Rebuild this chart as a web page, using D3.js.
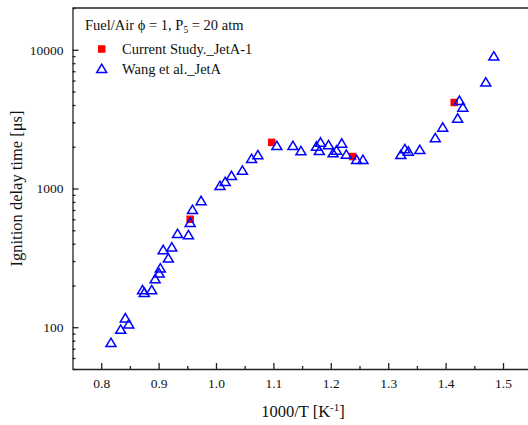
<!DOCTYPE html>
<html>
<head>
<meta charset="utf-8">
<script src="https://cdn.jsdelivr.net/npm/d3@7"></script>
<style>
  body { margin: 0; background: #fff; }
  text { font-family: "Liberation Serif", "Times New Roman", serif; fill: #111; }
</style>
</head>
<body>
<div id="chart"></div>
<script>
// ignition delay data
const studyX = [0.955, 1.097, 1.238, 1.415];
const studyY = [600, 2150, 1700, 4170];

const wangX = [0.817, 0.834, 0.842, 0.848, 0.872, 0.875, 0.888, 0.894, 0.901, 0.903,
    0.917, 0.908, 0.923, 0.933, 0.952, 0.955, 0.959, 0.974, 1.007, 1.016,
    1.027, 1.046, 1.062, 1.073, 1.106, 1.134, 1.148, 1.175, 1.180, 1.182,
    1.196, 1.204, 1.210, 1.219, 1.227, 1.245, 1.256, 1.322, 1.329, 1.335,
    1.355, 1.382, 1.395, 1.421, 1.424, 1.430, 1.470, 1.484];
const wangY = [77, 96, 116, 105, 185, 177, 185, 222, 244, 265,
    313, 360, 376, 470, 461, 566, 700, 812, 1042, 1114,
    1231, 1344, 1633, 1737, 2027, 2027, 1856, 2004, 1865, 2141,
    2051, 1796, 1875, 2106, 1754, 1606, 1606, 1746, 1919, 1844,
    1897, 2304, 2748, 3191, 4283, 3832, 5806, 8946];

const xTicks = [0.8, 0.9, 1.0, 1.1, 1.2, 1.3, 1.4, 1.5];
const xMinor = [0.85, 0.95, 1.05, 1.15, 1.25, 1.35, 1.45];
const yTicks = [100, 1000, 10000];

function renderChart() {
    const width = 528;
    const height = 425;
    const margin = { top: 8, left: 72.5, bottom: 56 };

    const svg = d3.select("#chart").append("svg")
        .attr("width", width)
        .attr("height", height);

    const x = d3.scaleLinear()
        .domain([0.75, 1.55])
        .range([margin.left, margin.left + 0.8 * 574]);

    const y = d3.scaleLog()
        .domain([50, 20000])
        .range([height - margin.bottom, margin.top]);

    // minor log ticks
    const yMinor = [];
    [10, 100, 1000, 10000].forEach(d => {
        for (let k = 2; k <= 9; k++) {
            const v = d * k;
            if (v >= 50 && v <= 20000) yMinor.push(v);
        }
    });

    const x0 = x.range()[0], x1 = x.range()[1];
    const y0 = y.range()[0], y1 = y.range()[1];

    // x axis
    svg.append("g")
        .attr("transform", `translate(0,${y0})`)
        .call(d3.axisBottom(x).tickValues(xTicks).tickFormat(d3.format(".1f"))
            .tickSizeInner(-6).tickSizeOuter(0).tickPadding(9));
    svg.append("g")
        .attr("transform", `translate(0,${y0})`)
        .call(d3.axisBottom(x).tickValues(xMinor).tickFormat("")
            .tickSizeInner(-3).tickSizeOuter(0))
        .select(".domain").remove();

    // y axis
    svg.append("g")
        .attr("transform", `translate(${x0},0)`)
        .call(d3.axisLeft(y).tickValues(yTicks).tickFormat(d3.format("d"))
            .tickSizeInner(-6).tickSizeOuter(0).tickPadding(9));
    svg.append("g")
        .attr("transform", `translate(${x0},0)`)
        .call(d3.axisLeft(y).tickValues(yMinor).tickFormat("")
            .tickSizeInner(-3).tickSizeOuter(0))
        .select(".domain").remove();

    svg.selectAll("g").attr("font-family", null);
    svg.selectAll(".tick text").attr("font-size", 13.5);
    svg.selectAll(".domain, .tick line").attr("stroke", "#222").attr("stroke-width", 1.3);

    // frame top / right
    svg.append("path")
        .attr("d", `M${x0},${y1}H${x1}V${y0}`)
        .attr("fill", "none")
        .attr("stroke", "#222")
        .attr("stroke-width", 1.3);

    // axis titles
    const xt = svg.append("text")
        .attr("x", 303)
        .attr("y", 417)
        .attr("text-anchor", "middle")
        .attr("font-size", 16.5);
    xt.append("tspan").text("1000/T [K");
    xt.append("tspan").attr("dy", -6).attr("font-size", 11).text("-1");
    xt.append("tspan").attr("dy", 6).text("]");

    svg.append("text")
        .attr("transform", `translate(22,${(y0 + y1) / 2}) rotate(-90)`)
        .attr("text-anchor", "middle")
        .attr("font-size", 16.5)
        .text("Ignition delay time [μs]");

    // data: squares first, triangles on top
    const sq = 7.5;
    svg.append("g")
        .selectAll("rect")
        .data(studyX.map((d, i) => [d, studyY[i]]))
        .join("rect")
        .attr("x", d => x(d[0]) - sq / 2)
        .attr("y", d => y(d[1]) - sq / 2)
        .attr("width", sq)
        .attr("height", sq)
        .attr("fill", "#f00");

    const tri = "M-5,3.6L5,3.6L0,-4.8Z";
    svg.append("g")
        .selectAll("path")
        .data(wangX.map((d, i) => [d, wangY[i]]))
        .join("path")
        .attr("d", tri)
        .attr("transform", d => `translate(${x(d[0])},${y(d[1])})`)
        .attr("fill", "none")
        .attr("stroke", "#0000ff")
        .attr("stroke-width", 1.5);

    // legend
    const lg = svg.append("g");
    const t1 = lg.append("text").attr("x", 85).attr("y", 30).attr("font-size", 14.5);
    t1.append("tspan").text("Fuel/Air ϕ = 1, P");
    t1.append("tspan").attr("dy", 3).attr("font-size", 9.5).text("5");
    t1.append("tspan").attr("dy", -3).text(" = 20 atm");

    lg.append("rect")
        .attr("x", 101.7 - sq / 2).attr("y", 49 - sq / 2)
        .attr("width", sq).attr("height", sq)
        .attr("fill", "#f00");
    lg.append("text").attr("x", 122).attr("y", 54).attr("font-size", 14.5)
        .text("Current Study._JetA-1");

    lg.append("path")
        .attr("d", tri)
        .attr("transform", "translate(101.7,69)")
        .attr("fill", "none")
        .attr("stroke", "#0000ff")
        .attr("stroke-width", 1.5);
    lg.append("text").attr("x", 122).attr("y", 74).attr("font-size", 14.5)
        .text("Wang et al._JetA");
}

renderChart();
</script>
</body>
</html>
